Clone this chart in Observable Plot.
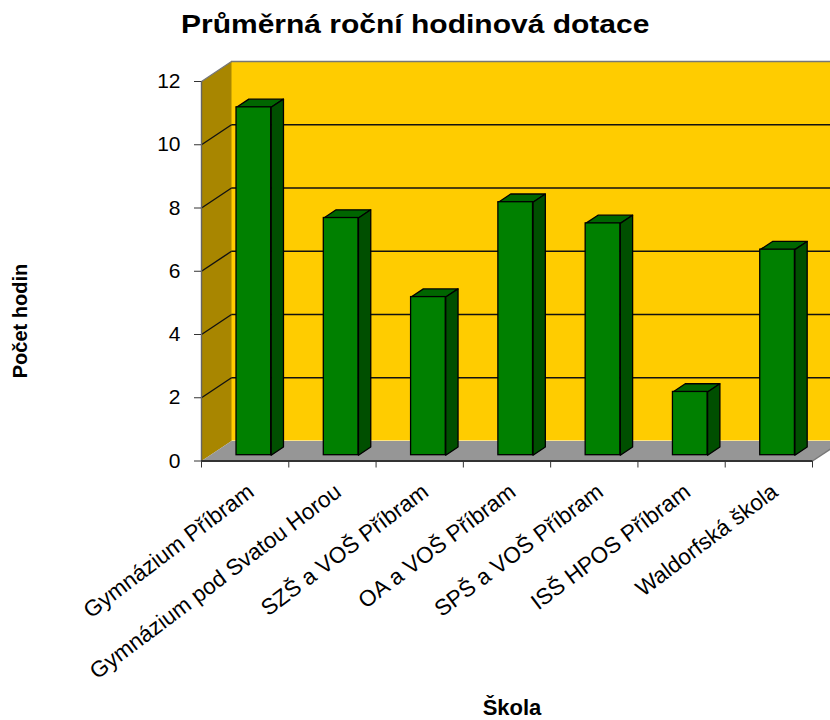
<!DOCTYPE html>
<html><head><meta charset="utf-8">
<script src="https://cdn.jsdelivr.net/npm/d3@7"></script>
<script src="https://cdn.jsdelivr.net/npm/@observablehq/plot@0.6"></script>
<style>
html,body{margin:0;padding:0;background:#fff;overflow:hidden;}
#title{height:45px;box-sizing:border-box;padding-top:12px;text-align:center;font:bold 25px "Liberation Sans",Arial,sans-serif;line-height:1;color:#000;}
#title span{display:inline-block;transform:scaleX(1.2);}
</style></head><body>
<div id="title"><span>Průměrná roční hodinová dotace</span></div>
<div id="chart"></div>
<script>
// ---- data ----
const categories = [
  "Gymnázium Příbram",
  "Gymnázium pod Svatou Horou",
  "SZŠ a VOŠ Příbram",
  "OA a VOŠ Příbram",
  "SPŠ a VOŠ Příbram",
  "ISŠ HPOS Příbram",
  "Waldorfská škola"
];
const values = [11, 7.5, 5, 8, 7.33, 2, 6.5];
const yTicks = [0, 2, 4, 6, 8, 10, 12];
const yTitle = "Počet hodin";
const xTitle = "Škola";

// ---- 3D layout (in scale units) ----
const n = categories.length;
const yMax = d3.max(yTicks);
const W = 830, H = 675, mL = 201, mR = 18, mT = 36, mB = 259.5;
const pxX = (W - mL - mR) / n, pxY = (H - mT - mB) / yMax;
const WDX = 30 / pxX, WDY = 20 / pxY;      // wall depth
const BAR_W = 0.397, F0 = 0.29, F1 = 0.70; // bar width and depth range
const P = (x, y, f) => ({x: x + f * WDX, y: y + f * WDY});

function poly(id, pts) { return [...pts, pts[0]].map(p => ({id, ...p})); }

const sideWall = poly("side", [P(0, 0, 0), P(0, yMax, 0), P(0, yMax, 1), P(0, 0, 1)]);
const floor = poly("floor", [P(0, 0, 0), P(n, 0, 0), P(n, 0, 1), P(0, 0, 1)]);

const bars = values.map((v, i) => ({i, v, xl: i + 0.5 - BAR_W / 2, xr: i + 0.5 + BAR_W / 2}));
const sides = bars.flatMap(b => poly("s" + b.i, [P(b.xr, 0, F0), P(b.xr, b.v, F0), P(b.xr, b.v, F1), P(b.xr, 0, F1)]));
const tops = bars.flatMap(b => poly("t" + b.i, [P(b.xl, b.v, F0), P(b.xr, b.v, F0), P(b.xr, b.v, F1), P(b.xl, b.v, F1)]));
const inner = yTicks.filter(t => t > 0 && t < yMax);

const chart = Plot.plot({
  width: W, height: H,
  marginLeft: mL, marginRight: mR, marginTop: mT, marginBottom: mB,
  x: {domain: [0, n]},
  y: {domain: [0, yMax]},
  style: {fontFamily: "'Liberation Sans', Arial, sans-serif", color: "#000", background: "#fff"},
  marks: [
    // back wall
    Plot.rect([0], {x1: WDX, x2: n + WDX, y1: WDY, y2: yMax + WDY, fill: "#FFCC00"}),
    Plot.ruleY(inner, {y: t => t + WDY, x1: WDX, x2: n + WDX, stroke: "#111", strokeWidth: 1.4}),
    Plot.ruleY([yMax], {y: t => t + WDY, x1: WDX, x2: n + WDX, stroke: "#777", strokeWidth: 1.4}),
    // side wall
    Plot.line(sideWall, {x: "x", y: "y", z: "id", fill: "#A88600", stroke: "none"}),
    Plot.link(inner, {x1: 0, y1: t => t, x2: WDX, y2: t => t + WDY, stroke: "#111", strokeWidth: 1.4}),
    Plot.link([yMax], {x1: 0, y1: t => t, x2: WDX, y2: t => t + WDY, stroke: "#777", strokeWidth: 1.4}),
    // floor
    Plot.line(floor, {x: "x", y: "y", z: "id", fill: "#969696", stroke: "none"}),
    Plot.link([n], {x1: d => d, y1: 0, x2: d => d + WDX, y2: WDY, stroke: "#777", strokeWidth: 1.4}),
    // axes
    Plot.ruleX([0], {y1: 0, y2: yMax, stroke: "#666", strokeWidth: 1.4}),
    Plot.ruleY([0], {x1: 0, x2: n, stroke: "#333", strokeWidth: 1.8}),
    Plot.axisY({ticks: yTicks, tickSize: 7, tickPadding: 14, fontSize: 21, stroke: "#333", label: null}),
    Plot.axisX({ticks: d3.range(n + 1), tickSize: 7, tickFormat: () => "", stroke: "#333", label: null}),
    // bars
    Plot.line(tops, {x: "x", y: "y", z: "id", fill: "#006600", stroke: "#000", strokeWidth: 1.3}),
    Plot.line(sides, {x: "x", y: "y", z: "id", fill: "#004F00", stroke: "#000", strokeWidth: 1.3}),
    Plot.rect(bars, {x1: b => b.xl + F0 * WDX, x2: b => b.xr + F0 * WDX, y1: F0 * WDY, y2: b => b.v + F0 * WDY,
      fill: "#008000", stroke: "#000", strokeWidth: 1.3}),
    // category labels
    Plot.text(categories, {x: (d, i) => i + 0.5, y: 0, text: d => d, rotate: -37, textAnchor: "end",
      dx: 6, dy: 28, fontSize: 22.5, fill: "#000"}),
    // axis titles
    Plot.text([yTitle], {frameAnchor: "left", text: d => d, rotate: -90, dx: -180.5, dy: 107,
      fontSize: 20, fontWeight: "bold", fill: "#000"}),
    Plot.text([xTitle], {frameAnchor: "bottom", text: d => d, dx: 5, dy: 254,
      fontSize: 22, fontWeight: "bold", fill: "#000"})
  ]
});
document.getElementById("chart").appendChild(chart);
</script>
</body></html>
